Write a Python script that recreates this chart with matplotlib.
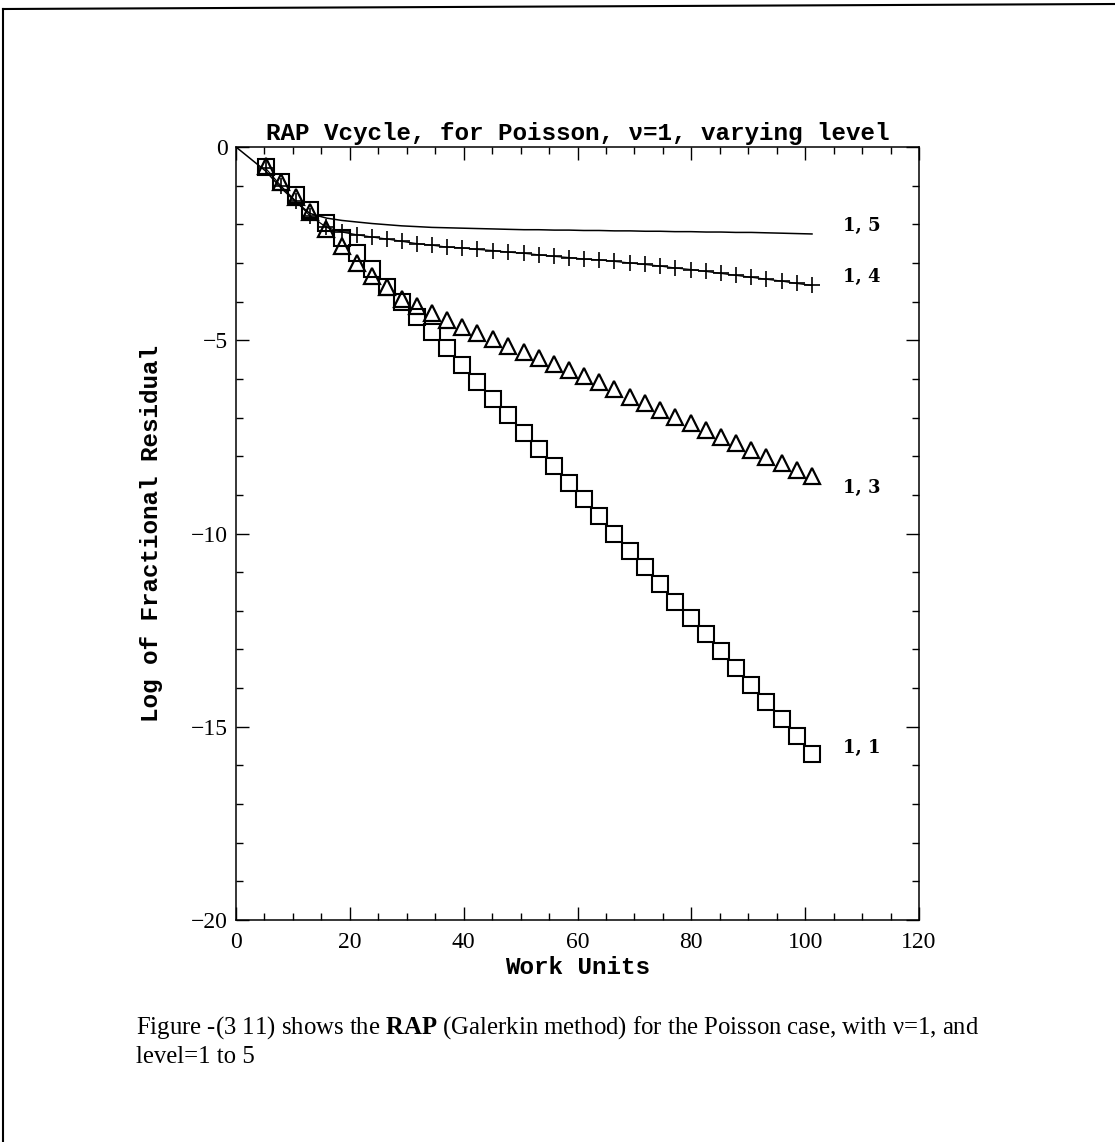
import matplotlib

matplotlib.use("Agg")
import matplotlib.pyplot as plt
from matplotlib.lines import Line2D
from matplotlib.ticker import MultipleLocator

plt.rcParams["mathtext.fontset"] = "custom"
plt.rcParams["mathtext.rm"] = "Liberation Serif"
plt.rcParams["mathtext.bf"] = "Liberation Serif:bold"

# work units at the end of each V-cycle
WORK = [5.2, 7.85, 10.5, 13.0, 15.9, 18.6, 21.2, 23.9, 26.5, 29.1, 31.8, 34.4,
        37.1, 39.7, 42.4, 45.2, 47.8, 50.6, 53.2, 55.9, 58.5, 61.1, 63.8, 66.5,
        69.2, 71.9, 74.5, 77.1, 79.9, 82.6, 85.2, 87.8, 90.5, 93.1, 95.9, 98.5,
        101.2]

# log10 of the fractional residual, one list per (nu, level) run
RES_1_1 = [-0.51, -0.90, -1.24, -1.63, -1.97, -2.36, -2.75, -3.16, -3.62, -4.01,
           -4.40, -4.79, -5.21, -5.65, -6.08, -6.51, -6.94, -7.39, -7.82, -8.26,
           -8.69, -9.12, -9.56, -10.01, -10.44, -10.87, -11.30, -11.77, -12.18,
           -12.60, -13.05, -13.49, -13.92, -14.37, -14.80, -15.25, -15.71]
RES_1_3 = [-0.50, -0.90, -1.29, -1.68, -2.12, -2.57, -3.00, -3.33, -3.63, -3.92,
           -4.12, -4.30, -4.48, -4.65, -4.81, -4.98, -5.15, -5.30, -5.46, -5.62,
           -5.78, -5.93, -6.08, -6.27, -6.46, -6.63, -6.80, -6.98, -7.15, -7.32,
           -7.50, -7.67, -7.84, -8.01, -8.18, -8.35, -8.52]
RES_1_4 = [-0.55, -1.00, -1.40, -1.78, -2.08, -2.20, -2.27, -2.33, -2.38, -2.44,
           -2.50, -2.54, -2.59, -2.61, -2.65, -2.68, -2.72, -2.75, -2.79, -2.83,
           -2.86, -2.90, -2.92, -2.96, -3.00, -3.04, -3.08, -3.13, -3.17, -3.22,
           -3.27, -3.32, -3.37, -3.42, -3.47, -3.53, -3.58]
# level 5 starts from the initial residual at zero work
WORK_1_5 = [0.0] + WORK
RES_1_5 = [0.0, -0.62, -1.05, -1.42, -1.72, -1.84, -1.90, -1.94, -1.98, -2.01,
           -2.04, -2.06, -2.08, -2.09, -2.10, -2.11, -2.12, -2.13, -2.14, -2.14,
           -2.15, -2.15, -2.16, -2.16, -2.17, -2.17, -2.18, -2.18, -2.19, -2.19,
           -2.20, -2.20, -2.21, -2.21, -2.22, -2.23, -2.24, -2.25]

CURVE_LABELS = ["1, 5", "1, 4", "1, 3", "1, 1"]
LABEL_X = 106.6
LABEL_Y = [-2.04, -3.37, -8.83, -15.55]

TITLE = "RAP Vcycle, for Poisson, \u03bd=1, varying level"
CAPTION = ("Figure -(3 11) shows the $\\mathbf{RAP}$ (Galerkin method) for the "
           "Poisson case, with \u03bd=1, and\nlevel=1 to 5")

W, H = 1115, 1142
fig = plt.figure(figsize=(W / 100, H / 100), dpi=100)
ax = fig.add_axes([236 / W, 1 - 920 / H, (919 - 236) / W, (920 - 147) / H])

ax.plot(WORK_1_5, RES_1_5, "-", color="black", lw=1.1)
ax.plot(WORK, RES_1_4, "-", color="black", lw=0.9, marker="+", ms=11, mew=1.2)
ax.plot(WORK, RES_1_3, "none", marker="^", ms=11, mfc="none", mec="black", mew=1.6)
ax.plot(WORK, RES_1_1, "none", marker="s", ms=11, mfc="none", mec="black", mew=1.5)

for lab, y in zip(CURVE_LABELS, LABEL_Y):
    ax.text(LABEL_X, y, lab, fontsize=13, fontweight="bold", family="DejaVu Serif",
            va="center", ha="left")

ax.set_xlim(0, 120)
ax.set_ylim(-20, 0)
ax.xaxis.set_major_locator(MultipleLocator(20))
ax.xaxis.set_minor_locator(MultipleLocator(5))
ax.yaxis.set_major_locator(MultipleLocator(5))
ax.yaxis.set_minor_locator(MultipleLocator(1))
ax.tick_params(which="both", direction="in", top=True, right=True, width=1.0)
ax.tick_params(which="major", length=9.5, labelsize=17)
ax.tick_params(axis="x", which="major", pad=9)
ax.tick_params(axis="y", which="major", pad=6)
ax.tick_params(which="minor", length=5)
for lab in ax.get_xticklabels() + ax.get_yticklabels():
    lab.set_family("Liberation Serif")
for s in ax.spines.values():
    s.set_linewidth(1.1)

ax.set_title(TITLE, family="Liberation Mono", fontsize=17.5, fontweight="bold", pad=5)
ax.set_xlabel("Work Units", family="Liberation Mono", fontsize=17.5,
              fontweight="bold", labelpad=2)
ax.set_ylabel("Log of Fractional Residual", family="Liberation Mono",
              fontsize=17.5, fontweight="bold", labelpad=20)

fig.text(136 / W, 1 - 1014 / H, CAPTION, family="Liberation Serif", fontsize=17.8,
         va="top", ha="left", linespacing=1.3)

# page frame: top and left edges only
fig.add_artist(Line2D([3 / W, 1], [1 - 9 / H, 1 - 4 / H], color="black", lw=1.5))
fig.add_artist(Line2D([3 / W, 3 / W], [1 - 9 / H, 0], color="black", lw=1.5))

fig.savefig("out.png", dpi=100)
